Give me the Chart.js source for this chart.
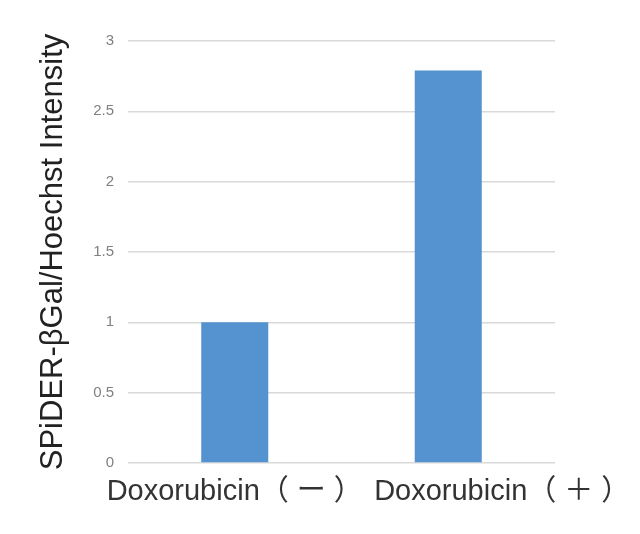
<!DOCTYPE html>
<html>
<head>
<meta charset="utf-8">
<script src="https://cdn.jsdelivr.net/npm/chart.js@4"></script>
<style>
  body { margin: 0; background: #fff; }
  #wrap { width: 640px; height: 534px; }
</style>
</head>
<body>
<div id="wrap"><canvas id="chart"></canvas></div>
<script>
// DATA
const categories = ["Doxorubicin（ ー ）", "Doxorubicin（ ＋ ）"];
const intensity = [1.0, 2.79];
const yMin = 0;
const yMax = 3;
const yStep = 0.5;
const yTitle = "SPiDER-βGal/Hoechst Intensity";

// labels under the bars sit a bit off the category centre in the original
const labelShift = [0, 54];

const xLabelPlugin = {
  id: "xLabels",
  afterDraw(chart) {
    const ctx = chart.ctx;
    const x = chart.scales.x;
    ctx.save();
    ctx.font = "29px 'Liberation Sans', 'Noto Sans CJK JP', sans-serif";
    ctx.fillStyle = "#333";
    ctx.textAlign = "center";
    ctx.textBaseline = "alphabetic";
    categories.forEach((label, i) => {
      ctx.fillText(label, x.getPixelForValue(i) + labelShift[i], 500);
    });
    ctx.restore();
  }
};

new Chart(document.getElementById("chart"), {
  type: "bar",
  data: {
    labels: categories,
    datasets: [{
      data: intensity,
      backgroundColor: "#5592d0",
      borderWidth: 0,
      barPercentage: 0.314,
      categoryPercentage: 1
    }]
  },
  options: {
    responsive: true,
    maintainAspectRatio: false,
    animation: false,
    layout: { padding: { top: 41, right: 85, left: 0, bottom: 0 } },
    plugins: { legend: { display: false }, tooltip: { enabled: false } },
    scales: {
      x: {
        ticks: { display: false },
        grid: { display: false },
        border: { display: false },
        afterFit(scale) { scale.height = 71; }
      },
      y: {
        min: yMin,
        max: yMax,
        ticks: {
          stepSize: yStep,
          padding: 14,
          color: "#808080",
          font: { family: "'Liberation Sans', sans-serif", size: 15 },
          callback: v => String(v)
        },
        grid: { color: "#d9d9d9", drawTicks: false, lineWidth: 1.5 },
        border: { display: false },
        title: {
          display: true,
          text: yTitle,
          color: "#222",
          padding: { top: 35, bottom: 0 },
          font: { family: "'Liberation Sans', sans-serif", size: 31 }
        },
        afterFit(scale) { scale.width = 128; }
      }
    }
  },
  plugins: [xLabelPlugin]
});
</script>
</body>
</html>
